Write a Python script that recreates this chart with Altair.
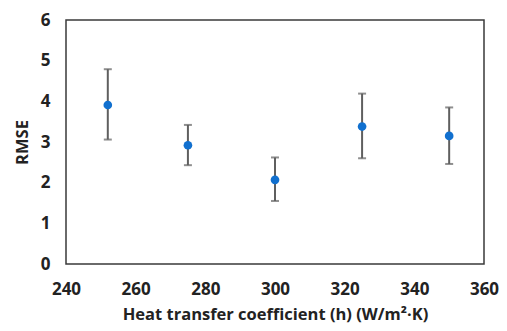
import altair as alt
import pandas as pd

h_values = [252, 275, 300, 325, 350]
rmse = [3.91, 2.92, 2.07, 3.38, 3.15]
rmse_low = [3.06, 2.43, 1.55, 2.60, 2.46]
rmse_high = [4.79, 3.42, 2.62, 4.19, 3.85]

df = pd.DataFrame({"h": h_values, "rmse": rmse, "lo": rmse_low, "hi": rmse_high})

FONT = "Open Sans"
x = alt.X("h:Q", scale=alt.Scale(domain=[240, 360], nice=False),
          axis=alt.Axis(values=list(range(240, 361, 20)), title="Heat transfer coefficient (h) (W/m²·K)"))
y = alt.Y("rmse:Q", scale=alt.Scale(domain=[0, 6], nice=False),
          axis=alt.Axis(values=list(range(0, 7)), title="RMSE"))

base = alt.Chart(df)
rule = base.mark_rule(color="#5f5f5f", strokeWidth=2).encode(x=x, y=alt.Y("lo:Q"), y2="hi:Q")
cap_lo = base.mark_tick(color="#5f5f5f", orient="horizontal", size=8, thickness=2).encode(x=x, y=alt.Y("lo:Q"))
cap_hi = base.mark_tick(color="#5f5f5f", orient="horizontal", size=8, thickness=2).encode(x=x, y=alt.Y("hi:Q"))
pts = base.mark_circle(color="#1170cf", opacity=1, size=75).encode(x=x, y=y)

chart = alt.layer(rule, cap_lo, cap_hi, pts).properties(
    width=418, height=244,
    autosize=alt.AutoSizeParams(type="none"),
    padding={"left": 58, "top": 12, "right": 15, "bottom": 59},
).configure_view(stroke="#3a3a3a", strokeWidth=1.5).configure_axis(
    grid=False, domain=False, ticks=False, labelFlush=False,
    labelFont=FONT, labelFontWeight="bold", labelFontSize=17, labelColor="#222222",
    titleFont=FONT, titleFontWeight="bold", titleFontSize=16.5, titleColor="#222222",
).configure_axisY(labelPadding=16, titlePadding=10).configure_axisX(labelPadding=17, titlePadding=9)

chart.save("out.html", embed_options={"renderer": "svg", "actions": False})
